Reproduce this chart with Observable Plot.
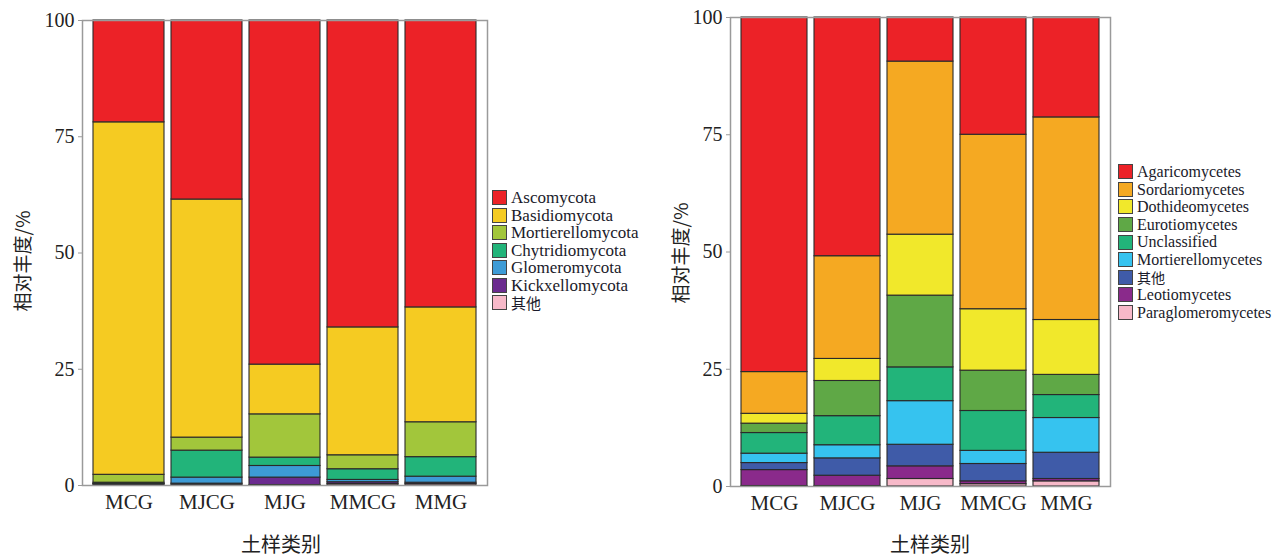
<!DOCTYPE html>
<html><head><meta charset="utf-8">
<script src="https://cdn.jsdelivr.net/npm/d3@7"></script>
<script src="https://cdn.jsdelivr.net/npm/@observablehq/plot@0.6"></script>
<style>
body{margin:0;background:#fff;width:1272px;height:558px;position:relative;overflow:hidden;font-family:"Liberation Serif",serif;}
.abs{position:absolute;}
.ytitle{position:absolute;font-family:"Noto Sans CJK SC",sans-serif;font-size:19px;color:#222;transform:translate(-50%,-50%) rotate(-90deg);white-space:nowrap;}
.xtitle{position:absolute;font-family:"Noto Sans CJK SC",sans-serif;font-size:20px;color:#222;transform:translate(-50%,-50%);white-space:nowrap;}
.leg{position:absolute;font-family:"Liberation Serif","Noto Sans CJK SC",serif;color:#1a1a2a;}
.leg div{display:flex;align-items:center;white-space:nowrap;overflow:visible;}
.leg span.sw{display:inline-block;width:13px;height:13px;border:1px solid #444;margin-right:4px;flex:none;}
.leg span.tx{display:inline-block;overflow:visible;}
#legL{font-size:17px;}
#legL div, #legL span.tx{height:17.5px;line-height:17.5px;}
#legR{font-size:16px;}
#legR div, #legR span.tx{height:17.6px;line-height:17.6px;}
</style></head>
<body>
<div id="left" class="abs" style="left:0;top:0"></div>
<div id="right" class="abs" style="left:640px;top:0"></div>
<div class="ytitle" style="left:21px;top:261px">相对丰度/%</div>
<div class="ytitle" style="left:679px;top:253px">相对丰度/%</div>
<div class="xtitle" style="left:281px;top:543px">土样类别</div>
<div class="xtitle" style="left:930px;top:543px">土样类别</div>
<div id="legL" class="leg" style="left:492px;top:189px"></div>
<div id="legR" class="leg" style="left:1118px;top:163px"></div>
<script>
const samples = ["MCG","MJCG","MJG","MMCG","MMG"];
const yTicks = [0,25,50,75,100];

// Left: phylum level (legend order, top of stack first)
const phyla = ["Ascomycota","Basidiomycota","Mortierellomycota","Chytridiomycota","Glomeromycota","Kickxellomycota","其他"];
const phylaColors = ["#ec2227","#f5cb22","#a2c63b","#22b47a","#3d9bd6","#6b2b8f","#f7b9c9"];
const ascomycota       = [21.9, 38.5, 74.0, 66.0, 61.7];
const basidiomycota    = [75.8, 51.2, 10.7, 27.5, 24.7];
const mortierellomycota= [1.7, 2.8, 9.3, 3.0, 7.5];
const chytridiomycota  = [0.2, 5.8, 1.8, 2.3, 4.2];
const glomeromycota    = [0.1, 1.3, 2.5, 0.5, 1.3];
const kickxellomycota  = [0.1, 0.2, 1.6, 0.4, 0.3];
const phylaOther       = [0.2, 0.2, 0.1, 0.3, 0.3];
const phylaValues = [ascomycota,basidiomycota,mortierellomycota,chytridiomycota,glomeromycota,kickxellomycota,phylaOther];

// Right: class level
const classes = ["Agaricomycetes","Sordariomycetes","Dothideomycetes","Eurotiomycetes","Unclassified","Mortierellomycetes","其他","Leotiomycetes","Paraglomeromycetes"];
const classColors = ["#ec2227","#f5a922","#f1e82b","#5fa846","#22b47a","#36c3ef","#3f5ba8","#8a2a8b","#f7b9c9"];
const agaricomycetes     = [75.6, 50.9, 9.4, 25.0, 21.3];
const sordariomycetes    = [8.9, 21.9, 36.9, 37.2, 43.2];
const dothideomycetes    = [2.1, 4.7, 13.0, 13.1, 11.7];
const eurotiomycetes     = [2.0, 7.5, 15.3, 8.6, 4.3];
const unclassified       = [4.4, 6.2, 7.2, 8.5, 4.9];
const mortierellomycetes = [2.0, 2.8, 9.3, 2.8, 7.4];
const classOther         = [1.5, 3.7, 4.6, 3.7, 5.6];
const leotiomycetes      = [3.4, 2.2, 2.7, 0.6, 0.5];
const paraglomeromycetes = [0.1, 0.1, 1.6, 0.5, 1.1];
const classValues = [agaricomycetes,sordariomycetes,dothideomycetes,eurotiomycetes,unclassified,mortierellomycetes,classOther,leotiomycetes,paraglomeromycetes];

function rows(names, values){
  const out = [];
  // bottom of stack = last legend entry
  for (let k = names.length - 1; k >= 0; k--) {
    samples.forEach((s, i) => out.push({sample: s, group: names[k], value: values[k][i]}));
  }
  return out;
}

function chart(names, colors, values, o){
  return Plot.plot({
    width: o.width, height: o.height,
    marginLeft: o.ml, marginRight: o.mr, marginTop: o.mt, marginBottom: o.mb,
    style: {fontFamily: "Liberation Serif, serif", fontSize: "20px", color: "#222", background: "transparent"},
    x: {domain: samples, paddingInner: o.pi, paddingOuter: o.po, label: null},
    y: {domain: [0,100], label: null},
    color: {domain: names, range: colors},
    marks: [
      Plot.barY(rows(names, values), {x: "sample", y: "value", fill: "group", stroke: "#2a2a2a", strokeWidth: 1.1, order: null}),
      Plot.frame({stroke: "#9a9a9a", strokeWidth: 1.5}),
      Plot.axisY({ticks: yTicks, tickSize: 4, tickPadding: 4, stroke: "#9a9a9a", fontSize: 20, label: null}),
      Plot.axisX({tickSize: 0, tickPadding: 9, fontSize: 21, label: null})
    ]
  });
}

document.getElementById("left").append(chart(phyla, phylaColors, phylaValues,
  {width: 490, height: 520, ml: 82, mr: 3, mt: 20, mb: 35, pi: 0.09, po: 0.13}));
document.getElementById("right").append(chart(classes, classColors, classValues,
  {width: 480, height: 521, ml: 90, mr: 10, mt: 17, mb: 35, pi: 0.1, po: 0.135}));

function legend(id, names, colors){
  const el = document.getElementById(id);
  names.forEach((n, i) => {
    const d = document.createElement("div");
    const sw = document.createElement("span");
    sw.className = "sw"; sw.style.background = colors[i];
    const t = document.createElement("span");
    t.className = "tx";
    t.textContent = n;
    if (n === "其他") { t.style.fontFamily = "Noto Sans CJK SC, sans-serif"; t.style.fontSize = "0.88em"; }
    d.append(sw, t);
    el.append(d);
  });
}
legend("legL", phyla, phylaColors);
legend("legR", classes, classColors);
</script>
</body></html>
